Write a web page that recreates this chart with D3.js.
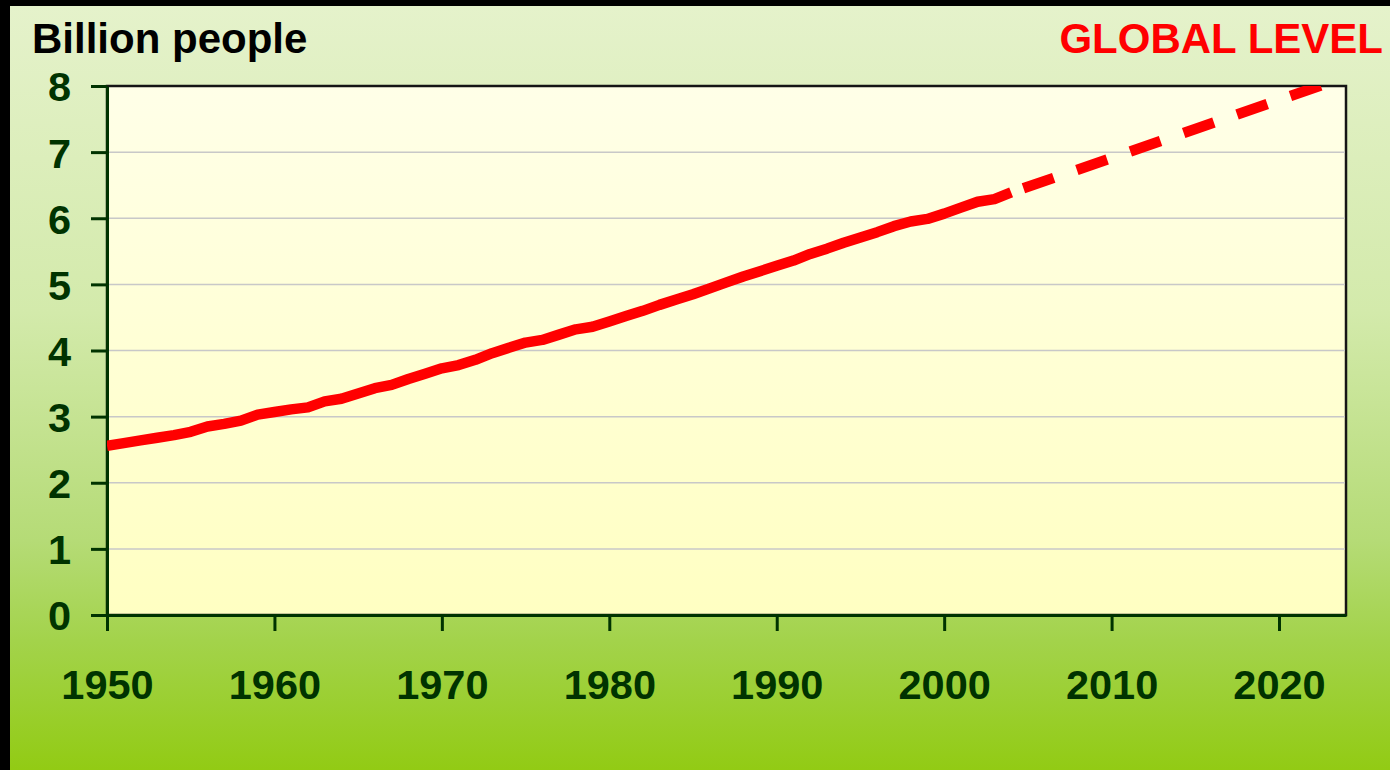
<!DOCTYPE html>
<html>
<head>
<meta charset="utf-8">
<script src="https://cdn.jsdelivr.net/npm/d3@7"></script>
<style>
    body { margin: 0; background: #000; }
    svg { display: block; }
    text { font-family: "Liberation Sans", Arial, sans-serif; font-weight: bold; }
</style>
</head>
<body>
<div id="chart"></div>
<script>
// estimated world population, billions
const years = d3.range(1950, 2005);
const population = [
    2.56, 2.60, 2.64, 2.68, 2.72, 2.77, 2.85, 2.89, 2.94, 3.03,
    3.07, 3.11, 3.14, 3.23, 3.27, 3.35, 3.43, 3.48, 3.57, 3.65,
    3.73, 3.78, 3.86, 3.96, 4.04, 4.12, 4.16, 4.24, 4.32, 4.36,
    4.44, 4.52, 4.60, 4.69, 4.77, 4.85, 4.94, 5.03, 5.12, 5.20,
    5.28, 5.36, 5.46, 5.54, 5.63, 5.71, 5.79, 5.88, 5.95, 5.99,
    6.07, 6.16, 6.25, 6.29, 6.39
];
// projection (dashed)
const projYears = [2004, 2010, 2015, 2020, 2023];
const projection = [6.39, 6.91, 7.35, 7.79, 8.05];

const yTicks = [0, 1, 2, 3, 4, 5, 6, 7, 8];
const xTicks = [1950, 1960, 1970, 1980, 1990, 2000, 2010, 2020];

const width = 1390,
    height = 770,
    plot = { left: 107, right: 1346, top: 86, bottom: 615 },
    axisColor = '#003300';

const svg = d3.select('#chart')
    .append('svg')
    .attr('width', width)
    .attr('height', height);

const defs = svg.append('defs');

const bgGrad = defs.append('linearGradient')
    .attr('id', 'bg')
    .attr('x1', 0).attr('y1', 0).attr('x2', 0).attr('y2', 1);
[[0, '#e5f2cb'], [0.4, '#d3eaab'], [0.7, '#b5db76'], [0.83, '#a3d34b'], [1, '#92cb14']]
    .forEach(s => bgGrad.append('stop').attr('offset', s[0]).attr('stop-color', s[1]));

const plotGrad = defs.append('linearGradient')
    .attr('id', 'plotbg')
    .attr('x1', 0).attr('y1', 0).attr('x2', 0).attr('y2', 1);
[[0, '#ffffe8'], [1, '#ffffc2']]
    .forEach(s => plotGrad.append('stop').attr('offset', s[0]).attr('stop-color', s[1]));

defs.append('clipPath').attr('id', 'clip')
    .append('rect')
    .attr('x', plot.left).attr('y', plot.top)
    .attr('width', plot.right - plot.left)
    .attr('height', plot.bottom - plot.top);

// black frame on the left and top, green gradient elsewhere
svg.append('rect')
    .attr('x', 0).attr('y', 0).attr('width', width).attr('height', height)
    .attr('fill', '#000');
svg.append('rect')
    .attr('x', 10).attr('y', 6).attr('width', width - 10).attr('height', height - 6)
    .attr('fill', 'url(#bg)');

const x = d3.scaleLinear().domain([1950, 2024]).range([plot.left, plot.right]);
const y = d3.scaleLinear().domain([0, 8]).range([plot.bottom, plot.top]);

svg.append('rect')
    .attr('x', plot.left).attr('y', plot.top)
    .attr('width', plot.right - plot.left)
    .attr('height', plot.bottom - plot.top)
    .attr('fill', 'url(#plotbg)')
    .attr('stroke', '#151515')
    .attr('stroke-width', 2.5);

// gridlines
svg.append('g')
    .selectAll('line')
    .data(yTicks.filter(d => d > 0 && d < 8))
    .join('line')
    .attr('x1', plot.left).attr('x2', plot.right - 1)
    .attr('y1', d => y(d)).attr('y2', d => y(d))
    .attr('stroke', '#c8c8c8')
    .attr('stroke-width', 1.5);

// axes
const yAxis = svg.append('g')
    .attr('transform', `translate(${plot.left},0)`)
    .call(d3.axisLeft(y).tickValues(yTicks).tickSizeInner(16).tickSizeOuter(0).tickPadding(20));
const xAxis = svg.append('g')
    .attr('transform', `translate(0,${plot.bottom})`)
    .call(d3.axisBottom(x).tickValues(xTicks).tickFormat(d3.format('d'))
        .tickSizeInner(16).tickSizeOuter(0).tickPadding(39));

[yAxis, xAxis].forEach(a => {
    a.select('.domain').attr('stroke', axisColor).attr('stroke-width', 3);
    a.selectAll('.tick line').attr('stroke', axisColor).attr('stroke-width', 3);
    a.selectAll('.tick text')
        .attr('fill', axisColor)
        .style('font-size', '41.5px');
});
yAxis.selectAll('.tick text').attr('dy', '0.36em');
xAxis.selectAll('.tick text').attr('dy', '0.71em');

// population line
const line = d3.line()
    .x(d => x(d[0]))
    .y(d => y(d[1]));

const lines = svg.append('g').attr('clip-path', 'url(#clip)');

lines.append('path')
    .datum(years.map((yr, i) => [yr, population[i]]))
    .attr('d', line)
    .attr('fill', 'none')
    .attr('stroke', '#ff0000')
    .attr('stroke-width', 10.5)
    .attr('stroke-linejoin', 'round');

lines.append('path')
    .datum(projYears.map((yr, i) => [yr, projection[i]]))
    .attr('d', line)
    .attr('fill', 'none')
    .attr('stroke', '#ff0000')
    .attr('stroke-width', 10.5)
    .attr('stroke-dasharray', '32,24.5')
    .attr('stroke-dashoffset', 43.5);

// titles
svg.append('text')
    .attr('x', 32).attr('y', 53)
    .attr('fill', '#000')
    .style('font-size', '42px')
    .text('Billion people');

svg.append('text')
    .attr('x', 1383).attr('y', 53)
    .attr('text-anchor', 'end')
    .attr('fill', '#ff0000')
    .style('font-size', '42px')
    .text('GLOBAL LEVEL');
</script>
</body>
</html>
